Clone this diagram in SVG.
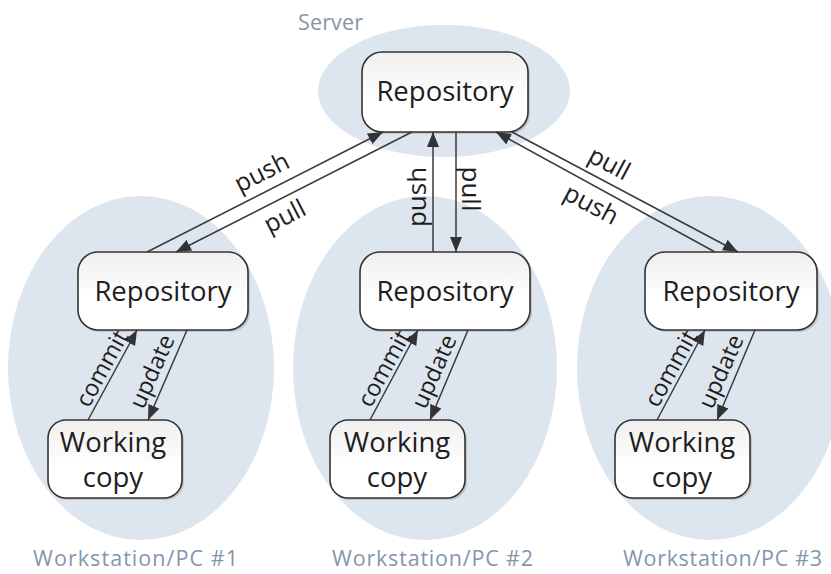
<svg xmlns="http://www.w3.org/2000/svg" width="831" height="574" viewBox="0 0 831 574">
<defs>
<linearGradient id="boxg" x1="0" y1="0" x2="0" y2="1">
<stop offset="0" stop-color="#efefef"/>
<stop offset="0.6" stop-color="#ffffff"/>
</linearGradient>
<marker id="ah" viewBox="0 0 10 8" markerWidth="15" markerHeight="12" refX="10" refY="4" orient="auto" markerUnits="userSpaceOnUse">
<path d="M0,0 L10,4 L0,8 z" fill="#333"/>
</marker>
<style>
.zone{fill:#dde6ef}
.shadow{fill:#c4c4c4}
.box{fill:url(#boxg);stroke:#333;stroke-width:1.6}
.t{font-family:"Open Sans","Liberation Sans",sans-serif;fill:#1e1e1e;text-anchor:middle}
.big{font-size:27.5px}
.zl{font-family:"Open Sans","Liberation Sans",sans-serif;fill:#8696aa;font-size:21.5px}
.c{stroke:#3a3a3a;stroke-width:1.5;fill:none;marker-end:url(#ah)}
.lbl{font-size:25px;dominant-baseline:central}
.sm{font-size:23.5px;dominant-baseline:central}
</style>
</defs>
<rect width="831" height="574" fill="#ffffff"/>
<g id="zones">
<ellipse class="zone" cx="444" cy="91" rx="126" ry="66"/>
<ellipse class="zone" cx="141" cy="368" rx="133" ry="172"/>
<ellipse class="zone" cx="425" cy="368" rx="132" ry="172"/>
<ellipse class="zone" cx="710" cy="368" rx="133" ry="172"/>
<text class="zl" x="298" y="30" textLength="65">Server</text>
<text class="zl" x="33" y="566" textLength="205">Workstation/PC #1</text>
<text class="zl" x="332" y="566" textLength="201">Workstation/PC #2</text>
<text class="zl" x="623" y="566" textLength="199">Workstation/PC #3</text>
</g>
<g id="server-repo">
<rect class="shadow" x="364" y="54" width="166" height="80" rx="20"/>
<rect class="box" x="362" y="52" width="166" height="80" rx="20"/>
<text class="t big" x="445" y="101">Repository</text>
</g>
<g id="pc1-repo">
<rect class="shadow" x="80" y="254" width="170" height="78" rx="20"/>
<rect class="box" x="78" y="252" width="170" height="78" rx="20"/>
<text class="t big" x="163" y="301">Repository</text>
</g>
<g id="pc2-repo">
<rect class="shadow" x="362" y="254" width="170" height="78" rx="20"/>
<rect class="box" x="360" y="252" width="170" height="78" rx="20"/>
<text class="t big" x="445" y="301">Repository</text>
</g>
<g id="pc3-repo">
<rect class="shadow" x="647" y="254" width="172" height="78" rx="20"/>
<rect class="box" x="645" y="252" width="172" height="78" rx="20"/>
<text class="t big" x="731" y="301">Repository</text>
</g>
<g id="pc1-wc">
<rect class="shadow" x="50" y="422" width="134" height="78" rx="18"/>
<rect class="box" x="48" y="420" width="134" height="78" rx="18"/>
<text class="t big" x="113" y="452">Working</text>
<text class="t big" x="113" y="487">copy</text>
</g>
<g id="pc2-wc">
<rect class="shadow" x="332" y="422" width="135" height="78" rx="18"/>
<rect class="box" x="330" y="420" width="135" height="78" rx="18"/>
<text class="t big" x="397" y="452">Working</text>
<text class="t big" x="397" y="487">copy</text>
</g>
<g id="pc3-wc">
<rect class="shadow" x="617" y="422" width="135" height="78" rx="18"/>
<rect class="box" x="615" y="420" width="135" height="78" rx="18"/>
<text class="t big" x="682" y="452">Working</text>
<text class="t big" x="682" y="487">copy</text>
</g>
<g id="connectors">
<line class="c" x1="147" y1="252" x2="383" y2="132"/>
<line class="c" x1="412" y1="132" x2="176" y2="252"/>
<line class="c" x1="433" y1="252" x2="433" y2="132"/>
<line class="c" x1="456" y1="132" x2="456" y2="252"/>
<line class="c" x1="512" y1="132" x2="738" y2="252"/>
<line class="c" x1="715" y1="252" x2="496" y2="132"/>
<line class="c" x1="88" y1="420" x2="137" y2="330"/>
<line class="c" x1="187" y1="330" x2="148" y2="420"/>
<line class="c" x1="370" y1="420" x2="418" y2="330"/>
<line class="c" x1="468" y1="330" x2="430" y2="420"/>
<line class="c" x1="657" y1="420" x2="705" y2="330"/>
<line class="c" x1="755" y1="330" x2="717" y2="420"/>
<text class="t lbl" transform="translate(261,171) rotate(-27)">push</text>
<text class="t lbl" transform="translate(284,215) rotate(-27)">pull</text>
<text class="t lbl" transform="translate(416,197) rotate(-90)" style="font-size:26px">push</text>
<text class="t lbl" transform="translate(472,189) rotate(90)" style="font-size:26px">pull</text>
<text class="t lbl" transform="translate(610,162) rotate(28)">pull</text>
<text class="t lbl" transform="translate(592,203) rotate(28)">push</text>
<text class="t sm" transform="translate(101,368) rotate(-61)">commit</text>
<text class="t sm" transform="translate(151,371) rotate(-66)">update</text>
<text class="t sm" transform="translate(383,368) rotate(-61)">commit</text>
<text class="t sm" transform="translate(433,371) rotate(-66)">update</text>
<text class="t sm" transform="translate(670,368) rotate(-61)">commit</text>
<text class="t sm" transform="translate(720,371) rotate(-66)">update</text>
</g>
</svg>
